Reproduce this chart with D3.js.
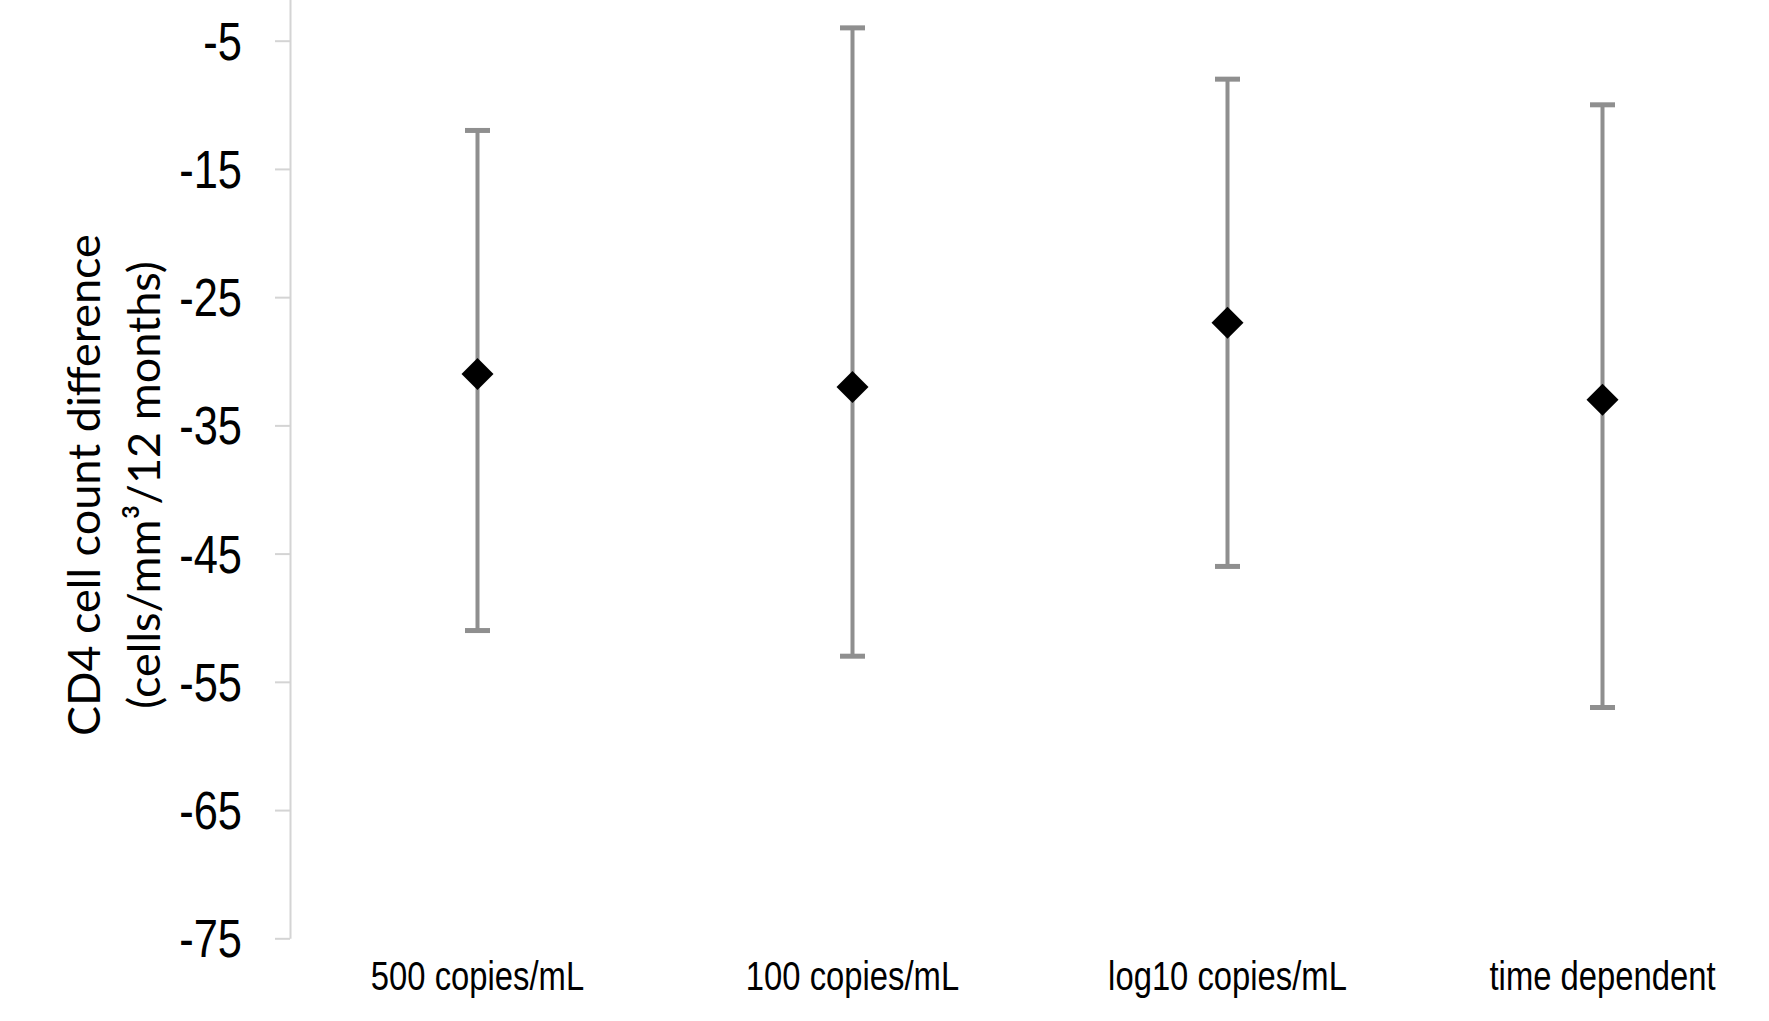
<!DOCTYPE html>
<html>
<head>
<meta charset="utf-8">
<script src="https://cdn.jsdelivr.net/npm/d3@7"></script>
<style>
  html, body { margin: 0; padding: 0; background: #fff; }
  svg { display: block; }
</style>
</head>
<body>
<svg id="chart" width="1769" height="1021"></svg>
<script>
const categories = ["500 copies/mL", "100 copies/mL", "log10 copies/mL", "time dependent"];
const estimates = [-31, -32, -27, -33];
const upperCI = [-12, -4, -8, -10];
const lowerCI = [-51, -53, -46, -57];
const yTicks = [-75, -65, -55, -45, -35, -25, -15, -5];
const yTitleLines = ["CD4 cell count difference", "(cells/mm³/12 months)"];

const svg = d3.select("#chart");
const axisX = 290;
const y0 = 938.3, unit = 12.823;
const narrow = 0.82;

const x = d3.scaleBand().domain(categories).range([axisX, axisX + 1500]).paddingInner(0).paddingOuter(0);
const y = d3.scaleLinear().domain([-75, 5]).range([y0, y0 - 80 * unit]);

const tickFont = "'Liberation Sans', Arial, sans-serif";

// Y axis
const yAxis = svg.append("g")
  .attr("transform", `translate(${axisX},0)`)
  .call(d3.axisLeft(y).tickValues(yTicks).tickSize(15).tickSizeOuter(0).tickPadding(33).tickFormat(d => String(d)));
yAxis.select(".domain").attr("stroke", "#d4d4d4").attr("stroke-width", 2);
yAxis.selectAll(".tick line").attr("stroke", "#d4d4d4").attr("stroke-width", 2);
yAxis.selectAll(".tick text")
  .attr("x", 0)
  .attr("transform", `translate(-48,0) scale(${narrow},1)`)
  .attr("font-family", tickFont)
  .attr("font-size", 53)
  .attr("fill", "#000")
  .attr("dy", "0.35em");

// X labels
svg.append("g").selectAll("text")
  .data(categories)
  .join("text")
  .attr("transform", d => `translate(${x(d) + x.bandwidth() / 2},990) scale(${narrow},1)`)
  .attr("text-anchor", "middle")
  .attr("font-family", tickFont)
  .attr("font-size", 40)
  .attr("fill", "#000")
  .text(d => d);

// Error bars
const eb = svg.append("g").attr("stroke", "#8f8f8f").attr("fill", "none");
categories.forEach((c, i) => {
  const cx = x(c) + x.bandwidth() / 2;
  eb.append("line").attr("x1", cx).attr("x2", cx)
    .attr("y1", y(upperCI[i])).attr("y2", y(lowerCI[i])).attr("stroke-width", 4);
  [upperCI[i], lowerCI[i]].forEach(v => {
    eb.append("line").attr("x1", cx - 12.5).attr("x2", cx + 12.5)
      .attr("y1", y(v)).attr("y2", y(v)).attr("stroke-width", 5);
  });
});

// Diamonds
const diamond = d3.symbol().type(d3.symbolSquare).size(2 * 16 * 16);
svg.append("g").selectAll("path")
  .data(categories)
  .join("path")
  .attr("d", diamond)
  .attr("transform", (d, i) => `translate(${x(d) + x.bandwidth() / 2},${y(estimates[i])}) rotate(45)`)
  .attr("fill", "#000");

// Y title
const title = svg.append("text")
  .attr("transform", `translate(0,485) rotate(-90)`)
  .attr("text-anchor", "middle")
  .attr("font-family", "Lato, 'Open Sans', sans-serif")
  .attr("font-size", 45)
  .attr("fill", "#000");
title.append("tspan").attr("x", 0).attr("y", 100).text(yTitleLines[0]);
title.append("tspan").attr("x", 0).attr("y", 160).text(yTitleLines[1]);
</script>
</body>
</html>
